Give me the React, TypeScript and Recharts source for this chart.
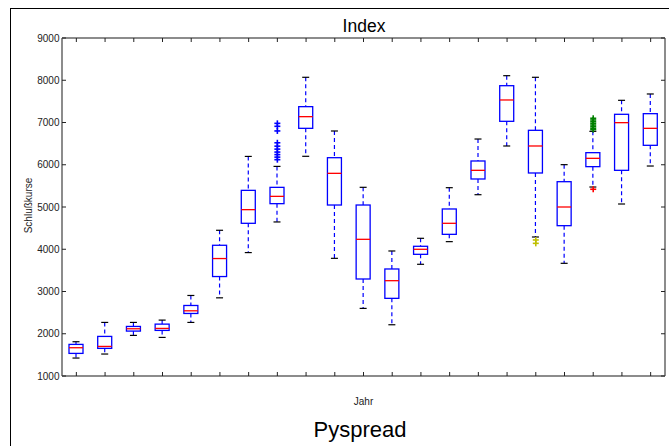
import { ComposedChart, Bar, Scatter, XAxis, YAxis } from "recharts";

// box positions (years, no labels shown on the axis)
const positions = [1, 2, 3, 4, 5, 6, 7, 8, 9, 10, 11, 12, 13, 14, 15, 16, 17, 18, 19, 20, 21];
const whiskerLow = [1425, 1520, 1961, 1913, 2268, 2850, 3921, 4646, 6200, 3785, 2600, 2213, 3644, 4180, 5291, 6444, 4290, 3667, 5473, 5071, 5970];
const quartile1 = [1535, 1654, 2063, 2079, 2480, 3354, 4614, 5079, 6862, 5047, 3296, 2838, 3880, 4353, 5663, 7028, 5805, 4558, 5955, 5868, 6460];
const medians = [1669, 1700, 2118, 2126, 2543, 3780, 4937, 5252, 7138, 5797, 4235, 3256, 3999, 4614, 5868, 7533, 6444, 5000, 6152, 6996, 6862];
const quartile3 = [1748, 1937, 2173, 2228, 2669, 4094, 5394, 5465, 7375, 6167, 5047, 3533, 4070, 4953, 6089, 7871, 6815, 5599, 6286, 7194, 7209];
const whiskerHigh = [1811, 2268, 2268, 2323, 2906, 4449, 6197, 5961, 8070, 6799, 5466, 3959, 4259, 5457, 6609, 8108, 8070, 6002, 6791, 7525, 7675];

// outliers
const blueFliers = [6980, 6910, 6800, 6520, 6440, 6370, 6300, 6240, 6180, 6120];
const yellowFliers = [4220, 4140];
const greenFliers = [7100, 7060, 7020, 6980, 6940, 6900, 6860, 6830];
const redFliers = [5420];

const yTicks = [1000, 2000, 3000, 4000, 5000, 6000, 7000, 8000, 9000];

const data = positions.map((p, i) => ({
  pos: p,
  lo: whiskerLow[i],
  q1: quartile1[i],
  med: medians[i],
  q3: quartile3[i],
  hi: whiskerHigh[i],
}));

const flierData = (pos: number, vals: number[]) => vals.map((v) => ({ pos, value: v }));

const FONT = "'Liberation Sans', Arial, sans-serif";
const AXIS = { stroke: "#666", strokeWidth: 1.5 };

function BoxShape(props: any) {
  const { x, y, width, height, payload } = props;
  if (x == null || y == null) return null;
  const top = Math.min(y, y + height);
  const h = Math.abs(height);
  const span = payload.hi - payload.lo;
  const k = span > 0 ? h / span : 0;
  const yOf = (v: number) => top + (payload.hi - v) * k;
  const cx = x + width / 2;
  const cap = width / 4;
  return (
    <g>
      <line x1={cx} x2={cx} y1={yOf(payload.hi)} y2={yOf(payload.q3)} stroke="#0000ff" strokeWidth={1.2} strokeDasharray="4 3" />
      <line x1={cx} x2={cx} y1={yOf(payload.q1)} y2={yOf(payload.lo)} stroke="#0000ff" strokeWidth={1.2} strokeDasharray="4 3" />
      <line x1={cx - cap} x2={cx + cap} y1={yOf(payload.hi)} y2={yOf(payload.hi)} stroke="#000" strokeWidth={1.2} />
      <line x1={cx - cap} x2={cx + cap} y1={yOf(payload.lo)} y2={yOf(payload.lo)} stroke="#000" strokeWidth={1.2} />
      <rect x={x} y={yOf(payload.q3)} width={width} height={yOf(payload.q1) - yOf(payload.q3)} fill="#fff" stroke="#0000ff" strokeWidth={1.3} />
      <line x1={x} x2={x + width} y1={yOf(payload.med)} y2={yOf(payload.med)} stroke="#ff0000" strokeWidth={1.3} />
    </g>
  );
}

function plus(color: string) {
  return (props: any) => {
    const { cx, cy } = props;
    if (cx == null || cy == null) return null;
    return (
      <g stroke={color} strokeWidth={1.6}>
        <line x1={cx - 3} x2={cx + 3} y1={cy} y2={cy} />
        <line x1={cx} x2={cx} y1={cy - 3} y2={cy + 3} />
      </g>
    );
  };
}

function XTick(props: any) {
  const { x, y, dir } = props;
  return <line x1={x} x2={x} y1={y} y2={y + dir * 4} stroke="#222" strokeWidth={1} />;
}

function YTick(props: any) {
  const { x, y, payload, side } = props;
  if (side === "right") {
    return <line x1={x} x2={x - 4} y1={y} y2={y} stroke="#222" strokeWidth={1} />;
  }
  return (
    <g>
      <line x1={x} x2={x + 4} y1={y} y2={y} stroke="#222" strokeWidth={1} />
      <text x={x - 2.5} y={y} dy="0.35em" textAnchor="end" fontSize={10} fontFamily={FONT} fill="#222">
        {payload.value}
      </text>
    </g>
  );
}

export default function App() {
  return (
    <div style={{ position: "fixed", left: 0, top: 0, width: 669, height: 446, overflow: "hidden", background: "#fff" }}>
      <div style={{ position: "absolute", left: 9.5, top: 7.5, width: 700, height: 500, borderLeft: "1.5px solid #000", borderTop: "1.5px solid #000", boxSizing: "border-box" }} />
      <div style={{ position: "absolute", left: 0, top: 0 }}>
        <ComposedChart width={669} height={446} data={data} margin={{ top: 37, right: 3, bottom: 40, left: 22 }}>
          <XAxis xAxisId="b" dataKey="pos" type="number" domain={[0.5, 21.5]} ticks={positions} orientation="bottom" height={30}
            tickSize={0} tickMargin={0} tickLine={false} tick={<XTick dir={-1} />} axisLine={AXIS} allowDataOverflow />
          <XAxis xAxisId="t" dataKey="pos" type="number" domain={[0.5, 21.5]} ticks={positions} orientation="top" height={1}
            tickSize={0} tickMargin={0} tickLine={false} tick={<XTick dir={1} />} axisLine={AXIS} allowDataOverflow />
          <YAxis yAxisId="l" type="number" domain={[1000, 9000]} ticks={yTicks} width={40}
            tickSize={0} tickMargin={0} tickLine={false} tick={<YTick side="left" />} axisLine={AXIS} allowDataOverflow />
          <YAxis yAxisId="r" type="number" orientation="right" domain={[1000, 9000]} ticks={yTicks} width={1}
            tickSize={0} tickMargin={0} tickLine={false} tick={<YTick side="right" />} axisLine={AXIS} allowDataOverflow />
          <Bar xAxisId="b" yAxisId="l" dataKey={(d: any) => [d.lo, d.hi]} barSize={14} shape={<BoxShape />} isAnimationActive={false} />
          <Scatter xAxisId="b" yAxisId="l" data={flierData(8, blueFliers)} dataKey="value" shape={plus("#0000ff")} isAnimationActive={false} />
          <Scatter xAxisId="b" yAxisId="l" data={flierData(17, yellowFliers)} dataKey="value" shape={plus("#bfbf00")} isAnimationActive={false} />
          <Scatter xAxisId="b" yAxisId="l" data={flierData(19, greenFliers)} dataKey="value" shape={plus("#008000")} isAnimationActive={false} />
          <Scatter xAxisId="b" yAxisId="l" data={flierData(19, redFliers)} dataKey="value" shape={plus("#ff0000")} isAnimationActive={false} />
        </ComposedChart>
      </div>
      <svg width={669} height={446} style={{ position: "absolute", left: 0, top: 0, pointerEvents: "none" }}>
        <text x={364} y={32} textAnchor="middle" fontSize={17.5} fontFamily={FONT} fill="#000">Index</text>
        <text x={363.5} y={405} textAnchor="middle" fontSize={10} fontFamily={FONT} fill="#222">Jahr</text>
        <text x={360} y={437} textAnchor="middle" fontSize={22} fontFamily={FONT} fill="#000">Pyspread</text>
        <text x={31.5} y={205.5} textAnchor="middle" fontSize={10} fontFamily={FONT} fill="#222" transform="rotate(-90 31.5 205.5)">Schlußkurse</text>
      </svg>
    </div>
  );
}
